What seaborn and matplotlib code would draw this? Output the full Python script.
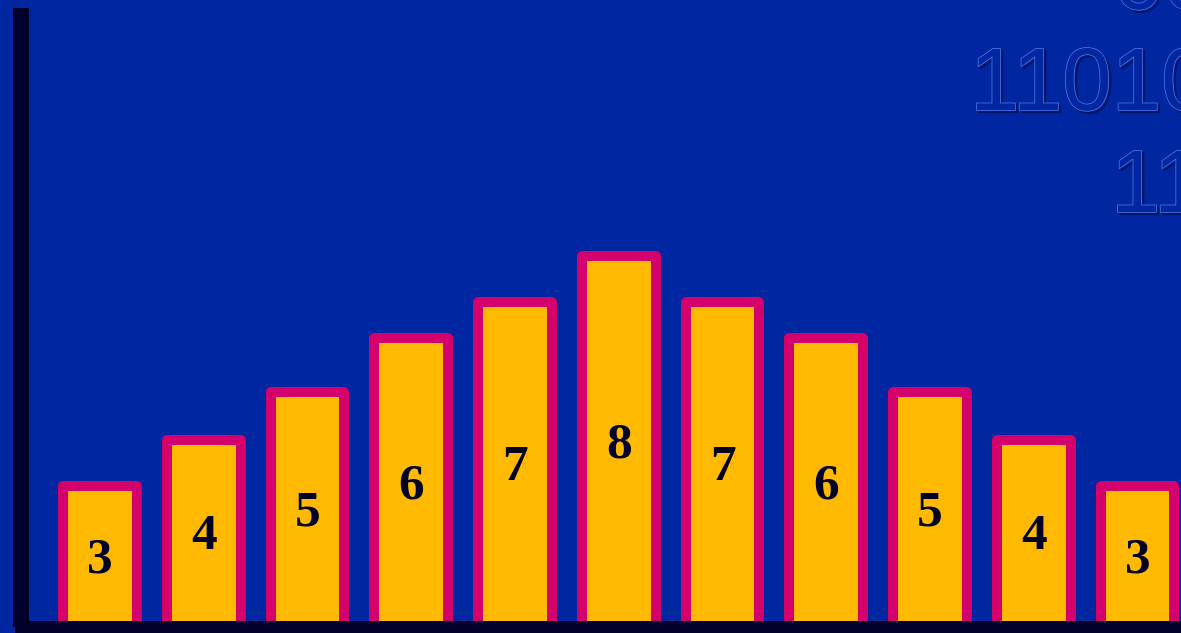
import matplotlib
matplotlib.use("Agg")
import matplotlib.pyplot as plt
import matplotlib.patheffects as pe
import seaborn as sns
import pandas as pd

# ---- data ----
categories = ["b1", "b2", "b3", "b4", "b5", "b6", "b7", "b8", "b9", "b10", "b11"]
bar_labels = ["3", "4", "5", "6", "7", "8", "7", "6", "5", "4", "3"]
bar_heights = [140.5, 186.5, 234.5, 288.5, 324.5, 370.5, 324.5, 288.5, 234.5, 186.5, 140.5]
deco_lines = ["00", "11010", "11"]

BG = "#0027a1"
FILL = "#ffb900"
EDGE = "#d4006c"
AXC = "#00002a"
TXT = "#000024"

sns.set_theme(style="white")
plt.rcParams["font.family"] = ["Liberation Serif", "DejaVu Serif"]

W, H = 1181, 633
fig = plt.figure(figsize=(W / 100, H / 100), dpi=100, facecolor=BG)

# decorative embossed binary text (background)
deco_x = [1114, 970, 1111]
deco_y = [9, 110, 212]
for s, xx, yy in zip(deco_lines, deco_x, deco_y):
    fig.text(xx / W, 1 - yy / H, s, fontsize=64, family="Liberation Sans",
             color=BG, ha="left", va="baseline", zorder=0,
             path_effects=[pe.Stroke(linewidth=1.6, foreground="#001466", offset=(1.5, -1.5)),
                           pe.Stroke(linewidth=1.1, foreground="#4a78ee"),
                           pe.Normal()])

ax = fig.add_axes([21 / W, (H - 626.5) / H, 1 - 21 / W, (626.5 - 8) / H])
ax.set_facecolor("none")

df = pd.DataFrame({"cat": categories, "h": bar_heights})
sns.barplot(data=df, x="cat", y="h", color=FILL, saturation=1, width=0.713,
            edgecolor=EDGE, linewidth=7.2, ax=ax)
for p in ax.patches:
    p.set_joinstyle("round")
    p.set_facecolor(FILL)

for i, (h, lab) in enumerate(zip(bar_heights, bar_labels)):
    ax.text(i, h / 2 - 4, lab, ha="center", va="center", fontsize=37,
            fontweight="bold", color=TXT, family="Liberation Serif")

spacing = 103.75
ax.set_xlim(-(100 - 21) / spacing, 10 + (1181 - 1137.5) / spacing)
ax.set_ylim(0, 618.5)
ax.set_xticks([])
ax.set_yticks([])
ax.set_xlabel("")
ax.set_ylabel("")
for s in ["top", "right"]:
    ax.spines[s].set_visible(False)
ax.spines["left"].set_linewidth(16 * 0.72)
ax.spines["left"].set_color(AXC)
ax.spines["left"].set_capstyle("butt")
ax.spines["bottom"].set_linewidth(13 * 0.72)
ax.spines["bottom"].set_color(AXC)
ax.spines["bottom"].set_capstyle("projecting")
ax.spines["left"].set_zorder(5)
ax.spines["bottom"].set_zorder(5)

fig.savefig("out.png", dpi=100, facecolor=BG)
